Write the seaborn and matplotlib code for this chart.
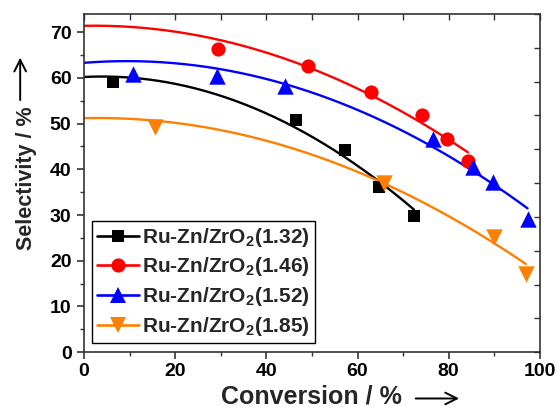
import numpy as np
import pandas as pd
import matplotlib
matplotlib.use("Agg")
import matplotlib.pyplot as plt
from matplotlib.lines import Line2D
import seaborn as sns

# ---------------- data ----------------
labels = [r"Ru-Zn/ZrO$_2$(1.32)", r"Ru-Zn/ZrO$_2$(1.46)",
          r"Ru-Zn/ZrO$_2$(1.52)", r"Ru-Zn/ZrO$_2$(1.85)"]

conv_132 = [6.4, 46.5, 57.2, 64.8, 72.4]
sel_132 = [59.1, 50.7, 44.3, 36.2, 29.7]

conv_146 = [29.3, 49.2, 63.0, 74.2, 79.7, 84.2]
sel_146 = [66.4, 62.6, 56.9, 51.9, 46.6, 41.9]

conv_152 = [10.8, 29.1, 44.1, 76.5, 85.3, 89.8, 97.3]
sel_152 = [60.9, 60.5, 58.3, 46.7, 40.5, 37.2, 29.2]

conv_185 = [15.6, 65.8, 90.0, 96.9]
sel_185 = [49.2, 37.1, 25.3, 17.1]

# quadratic fit curves drawn in the reference: y = c0 + c1*x + c2*x^2
fit_c0 = [60.2, 71.4, 63.3, 51.2]
fit_c1 = [0.0495, 0.0182, 0.0785, 0.0207]
fit_c2 = [-0.00622, -0.00412, -0.00417, -0.00361]

x_ticks = [0, 20, 40, 60, 80, 100]
y_ticks = [0, 10, 20, 30, 40, 50, 60, 70]

# ---------------- style ----------------
colors = ["#000000", "#FF0000", "#0000FF", "#FF7F00"]
markers = ["s", "o", "^", "v"]
msizes = [8.4, 10.2, 11.8, 11.8]

sns.set_theme(style="ticks")
plt.rcParams["font.family"] = ["Liberation Sans", "DejaVu Sans"]
plt.rcParams["font.weight"] = "bold"
plt.rcParams["mathtext.fontset"] = "custom"
plt.rcParams["mathtext.rm"] = "Liberation Sans:bold"
plt.rcParams["mathtext.bf"] = "Liberation Sans:bold"
plt.rcParams["mathtext.it"] = "Liberation Sans:bold"
plt.rcParams["mathtext.default"] = "rm"

fig = plt.figure(figsize=(5.6, 4.09), dpi=100)
ax = fig.add_axes([0.15, 0.139, 0.814, 0.827])

convs = [conv_132, conv_146, conv_152, conv_185]
sels = [sel_132, sel_146, sel_152, sel_185]

for i in range(4):
    xs = np.linspace(0, max(convs[i]), 200)
    ys = fit_c0[i] + fit_c1[i] * xs + fit_c2[i] * xs ** 2
    sns.lineplot(x=xs, y=ys, ax=ax, color=colors[i], lw=1.7, zorder=2)
    df = pd.DataFrame({"x": convs[i], "y": sels[i]})
    sns.scatterplot(data=df, x="x", y="y", ax=ax, marker=markers[i],
                    s=msizes[i] ** 2, color=colors[i], edgecolor=colors[i],
                    linewidth=0, zorder=3)

ax.set_xlim(0, 100)
ax.set_ylim(0, 74)
ax.set_xticks(x_ticks)
ax.set_yticks(y_ticks)
ax.set_xticks(np.arange(0, 101, 10), minor=True)
ax.set_yticks(np.arange(0, 75, 5), minor=True)
ax.tick_params(which="major", direction="out", length=5, width=1.2,
               labelsize=14, color="#333333", labelcolor="black")
ax.tick_params(which="minor", direction="out", length=3, width=1.0,
               color="#333333")
ax.tick_params(axis="x", pad=3)
ax.tick_params(axis="y", pad=4)
for lab in ax.get_xticklabels() + ax.get_yticklabels():
    lab.set_fontweight("bold")
for sp in ax.spines.values():
    sp.set_visible(True)
    sp.set_linewidth(1.2)
    sp.set_color("#333333")

# opposite-side ticks (inward, no labels)
axr = ax.twinx()
axr.set_ylim(0, 10)
axr.set_yticks(np.arange(0, 11, 1))
axr.tick_params(axis="y", direction="in", length=4, width=1.0,
                labelright=False, color="#333333")
axt = ax.twiny()
axt.set_xlim(0, 100)
axt.set_xticks(np.arange(0, 101, 10))
axt.tick_params(axis="x", direction="in", length=4, width=1.0,
                labeltop=False, color="#333333")
for a in (axr, axt):
    for sp in a.spines.values():
        sp.set_visible(False)

ax.set_xlabel("Conversion / %", fontsize=18, fontweight="bold")
ax.set_ylabel("Selectivity / %", fontsize=15.5, fontweight="bold")
ax.xaxis.set_label_coords(0.5, -0.097)
ax.yaxis.set_label_coords(-0.104, 0.513)

arrow_style = dict(arrowstyle="->,head_length=0.7,head_width=0.35",
                   lw=1.4, color="black")
ax.annotate("", xy=(0.829, -0.137), xytext=(0.7215, -0.137),
            xycoords="axes fraction", arrowprops=arrow_style,
            annotation_clip=False)
ax.annotate("", xy=(-0.14, 0.879), xytext=(-0.14, 0.737),
            xycoords="axes fraction", arrowprops=arrow_style,
            annotation_clip=False)

handles = [Line2D([0], [0], color=colors[i], lw=1.9, marker=markers[i],
                  markersize=msizes[i], markeredgewidth=0)
           for i in range(4)]
leg = ax.legend(handles, labels, loc="lower left",
                bbox_to_anchor=(0.017, 0.027), borderaxespad=0,
                frameon=True, fancybox=False, framealpha=1,
                edgecolor="black", handlelength=2.0,
                handletextpad=0.15, labelspacing=0.32, borderpad=0.25,
                prop={"weight": "bold", "size": 15})
leg.get_frame().set_linewidth(1.0)
leg.set_zorder(5)

fig.savefig("out.png", dpi=100)
